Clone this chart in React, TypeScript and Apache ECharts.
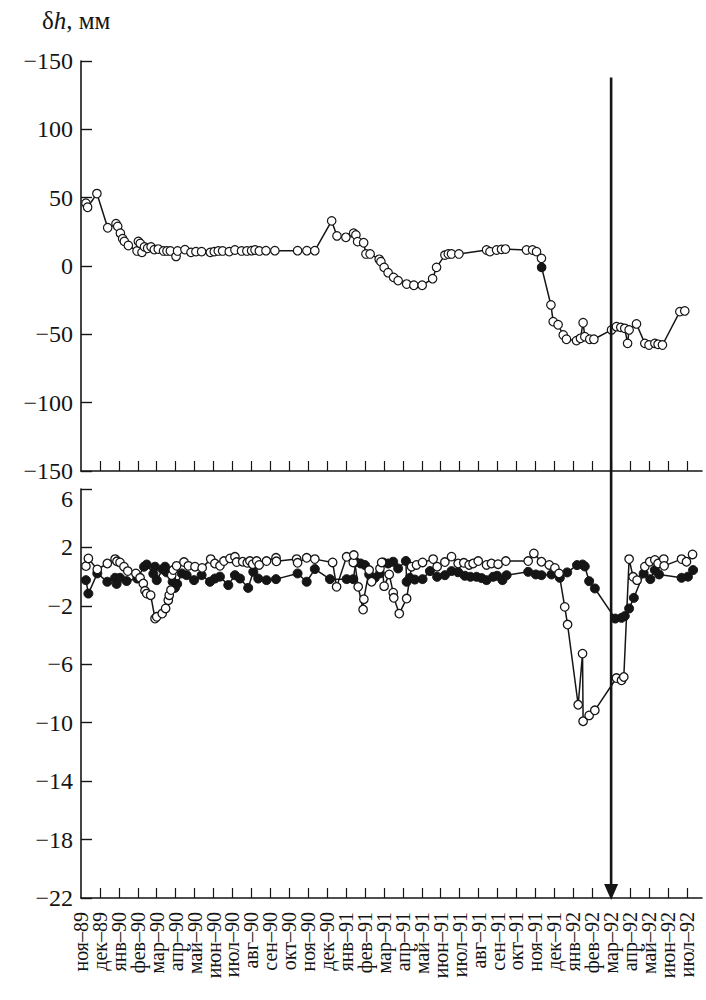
import React, { useEffect, useRef } from "react";
import * as echarts from "echarts";

const months = [
  "ноя–89", "дек–89", "янв–90", "фев–90", "мар–90", "апр–90", "май–90", "июн–90", "июл–90",
  "авг–90", "сен–90", "окт–90", "ноя–90", "дек–90", "янв–91", "фев–91", "мар–91", "апр–91",
  "май–91", "июн–91", "июл–91", "авг–91", "сен–91", "окт–91", "ноя–91", "дек–91", "янв–92",
  "фев–92", "мар–92", "апр–92", "май–92", "июн–92", "июл–92",
];

const topTicks = [-150, -100, -50, 0, 50, 100, 150];
const bottomTicks = [-22, -18, -14, -10, -6, -2, 2, 6];
const arrowMonth = 28;

// top panel: δh, mm (month index, value)
const topSeries: number[][] = [
  [0.26, 46], [0.35, 43], [0.84, 53], [1.41, 28], [1.85, 31], [1.94, 29], [2.08, 24], [2.2, 20],
  [2.29, 18], [2.5, 15], [2.96, 11], [3.03, 18], [3.13, 16.5], [3.22, 10], [3.35, 14], [3.52, 13],
  [3.7, 14], [3.87, 12], [4.08, 12.4], [4.36, 11], [4.54, 11], [4.72, 11], [5.02, 7], [5.1, 11],
  [5.49, 12], [5.81, 10], [6.07, 10.5], [6.37, 10.5], [6.83, 10], [7.04, 10.5], [7.25, 11], [7.48, 11],
  [7.83, 10.5], [8.13, 11.7], [8.48, 11], [8.76, 11], [9.01, 11.2], [9.19, 11.7], [9.42, 11], [9.77, 11.2],
  [10.24, 11.2], [11.44, 11.2], [11.93, 11.2], [12.35, 11.2], [13.24, 33], [13.52, 22], [13.99, 21], [14.4, 24],
  [14.52, 22.7], [14.61, 17.8], [14.93, 17], [15.05, 8.8], [15.27, 8.8], [15.75, 4.9], [15.84, 3.2], [16.01, -1],
  [16.22, -4.9], [16.51, -8.3], [16.75, -10.7], [17.2, -13.2], [17.58, -14.1], [18.02, -14.1], [18.57, -9.3],
  [18.78, -1], [19.22, 8], [19.4, 8.8], [19.57, 8.8], [19.96, 8.8], [21.42, 11.7], [21.6, 10.5], [21.95, 11.7],
  [22.21, 12.2], [22.42, 12.4], [23.53, 11.7], [23.85, 11.7], [24.06, 10.5], [24.32, 5.6], [24.33, -1],
  [24.82, -28.5], [24.94, -40.7], [25.2, -43], [25.47, -50.5], [25.64, -53.6], [26.17, -54.6], [26.38, -52.9],
  [26.52, -41.5], [26.61, -51.7], [26.87, -53.6], [27.09, -53.6], [28.02, -46.8], [28.28, -44.4], [28.51, -44.9],
  [28.72, -45.6], [28.87, -56.6], [28.95, -46.8], [29.34, -42.4], [29.78, -56.6], [30.0, -57.8], [30.31, -56.6],
  [30.48, -57.3], [30.71, -57.8], [31.63, -33.4], [31.89, -32.9],
];
const topFilledIndex = 77;

// bottom panel, open circles
const openSeries: number[][] = [
  [0.26, 0.72], [0.39, 1.25], [0.86, 0.49], [1.39, 0.9], [1.8, 1.2], [1.9, 1.05], [2.06, 0.97], [2.27, 0.68],
  [2.47, 0.38], [2.9, 0.22], [3.12, -0.08], [3.29, -0.47], [3.38, -0.97], [3.47, -1.16], [3.68, -1.27],
  [3.91, -2.87], [4.0, -2.75], [4.29, -2.53], [4.47, -2.18], [4.61, -1.61], [4.66, -1.27], [4.75, -0.92],
  [4.79, 0.1], [4.87, 0.45], [5.05, 0.74], [5.44, 1.0], [5.67, 0.74], [6.02, 0.68], [6.4, 0.6], [6.85, 1.2],
  [7.07, 0.9], [7.34, 0.74], [7.55, 1.07], [7.87, 1.25], [8.13, 1.36], [8.22, 1.0], [8.54, 1.02], [8.78, 0.95],
  [8.92, 1.07], [9.07, 0.85], [9.28, 1.07], [9.41, 0.8], [9.8, 1.07], [10.3, 1.29], [10.32, 1.05],
  [11.39, 1.2], [11.44, 0.95], [11.92, 1.29], [12.35, 1.2], [13.29, 0.97], [13.5, -0.7], [14.03, 1.36],
  [14.38, 0.97], [14.41, 1.48], [14.64, -0.7], [14.9, -2.25], [14.94, -1.54], [15.22, 0.45], [15.35, -0.35],
  [15.79, 0.55], [15.88, 0.97], [16.01, -0.65], [16.28, 0.15], [16.49, -1.1], [16.52, -1.45], [16.81, -2.53],
  [17.2, -1.5], [17.46, 0.68], [17.72, 0.8], [18.04, 0.97], [18.6, 1.2], [18.81, 0.68], [19.22, 1.0],
  [19.57, 1.37], [19.92, 0.9], [20.22, 0.95], [20.5, 0.8], [20.71, 0.9], [20.98, 1.07], [21.42, 0.8],
  [21.68, 0.9], [22.03, 0.85], [22.44, 1.07], [23.62, 1.07], [23.92, 1.59], [24.32, 1.02], [24.73, 0.8],
  [25.03, 0.6], [25.25, 0.22], [25.55, -2.07], [25.7, -3.28], [26.26, -8.77], [26.49, -5.27], [26.52, -9.9],
  [26.84, -9.5], [27.14, -9.15], [28.28, -6.94], [28.55, -7.1], [28.67, -6.87], [28.95, 1.2], [29.16, -0.01],
  [29.37, -0.24], [29.78, 0.68], [30.04, 1.02], [30.31, 1.14], [30.48, 0.9], [30.78, 1.2], [30.8, 0.74],
  [31.72, 1.2], [31.98, 1.02], [32.3, 1.52],
];

// bottom panel, filled circles
const filledSeries: number[][] = [
  [0.26, -0.24], [0.39, -1.16], [0.86, 0.22], [1.39, -0.35], [1.8, -0.08], [1.88, -0.5], [2.06, -0.08],
  [2.41, -0.3], [2.97, -0.13], [3.33, 0.68], [3.47, 0.83], [3.82, 0.2], [3.91, 0.68], [4.0, -0.24], [4.31, 0.5],
  [4.44, 0.68], [4.52, 0.3], [4.84, -0.35], [4.96, -0.77], [5.08, -0.5], [5.32, 0.22], [5.58, 0.1],
  [5.97, -0.24], [6.37, 0.1], [6.81, -0.35], [7.07, -0.13], [7.34, 0.0], [7.78, -0.58], [8.13, 0.1],
  [8.4, -0.13], [8.83, -0.77], [9.1, 0.33], [9.36, -0.13], [9.8, -0.24], [10.3, -0.17], [11.44, 0.22],
  [11.92, -0.35], [12.35, 0.52], [13.15, -0.17], [14.03, -0.17], [14.38, -0.17], [14.52, 1.0], [14.77, 0.9],
  [15.0, 0.79], [15.22, 0.15], [15.52, -0.08], [15.79, 0.22], [15.96, 0.97], [16.22, 0.9], [16.49, 1.02],
  [16.75, 0.56], [17.16, 1.07], [17.2, -0.35], [17.37, -0.08], [17.63, -0.2], [18.04, -0.17], [18.43, 0.38],
  [18.81, -0.01], [19.22, 0.1], [19.57, 0.38], [19.92, 0.3], [20.27, 0.06], [20.57, -0.01], [20.89, -0.01],
  [21.16, -0.1], [21.42, -0.24], [21.77, -0.01], [21.98, 0.06], [22.26, -0.24], [22.48, 0.1], [23.62, 0.33],
  [24.02, 0.15], [24.32, 0.1], [24.85, 0.15], [25.29, -0.08], [25.68, 0.29], [26.2, 0.79], [26.49, 0.83],
  [26.61, 0.7], [26.84, -0.31], [27.14, -0.81], [28.22, -2.87], [28.55, -2.82], [28.72, -2.7], [28.95, -2.18],
  [29.2, -1.45], [29.72, 0.22], [30.07, -0.17], [30.31, 0.45], [30.53, 0.15], [31.72, -0.08], [32.06, 0.0],
  [32.33, 0.45],
];

const INK = "#151515";
const FONT = "'Liberation Serif', 'Times New Roman', serif";

const minus = (v: number) => String(v).replace("-", "−");

export default function App() {
  const ref = useRef<HTMLDivElement>(null);

  useEffect(() => {
    if (!ref.current) return;
    const chart = echarts.init(ref.current, null, { renderer: "svg" });

    const monthIdx = months.map((_, i) => i);
    const evenIdx = monthIdx.filter((i) => i % 2 === 0);
    const oddIdx = monthIdx.filter((i) => i % 2 === 1);

    const xBase = {
      type: "value" as const,
      min: 0,
      max: 32.8,
      interval: 1,
      position: "bottom" as const,
      axisLine: { show: true, onZero: false, lineStyle: { color: INK, width: 1.6 } },
      axisTick: {
        show: true,
        inside: true,
        length: 10,
        customValues: monthIdx.slice(1),
        lineStyle: { color: INK, width: 1.2 },
      },
      splitLine: { show: false },
    };

    const monthLabel = (values: number[]) => ({
      show: true,
      rotate: 90,
      margin: 14,
      customValues: values,
      showMinLabel: true,
      showMaxLabel: true,
      hideOverlap: false,
      color: INK,
      fontSize: 20,
      fontFamily: FONT,
      formatter: (v: number) => (Number.isInteger(v) ? months[v] ?? "" : ""),
    });

    const yAxisCommon = {
      type: "value" as const,
      axisLine: { show: true, lineStyle: { color: INK, width: 1.6 } },
      axisTick: { show: true, inside: true, length: 11, lineStyle: { color: INK, width: 1.4 } },
      splitLine: { show: false },
      axisLabel: { color: INK, fontSize: 24, fontFamily: FONT, margin: 8 },
    };

    const lineSeriesBase = {
      type: "line" as const,
      showAllSymbol: true,
      symbol: "circle",
      symbolSize: 8.5,
      lineStyle: { color: INK, width: 1.5 },
      emphasis: { disabled: true },
    };

    chart.setOption({
      animation: false,
      grid: [
        { left: 81, top: 61, width: 621, height: 410 },
        { left: 81, top: 489, width: 621, height: 409 },
      ],
      xAxis: [
        { ...xBase, gridIndex: 0, axisLabel: { show: false } },
        { ...xBase, gridIndex: 1, axisLabel: monthLabel(evenIdx) },
        {
          ...xBase,
          gridIndex: 1,
          axisLine: { show: false, onZero: false },
          axisTick: { show: false },
          axisLabel: monthLabel(oddIdx),
        },
      ],
      yAxis: [
        {
          ...yAxisCommon,
          gridIndex: 0,
          min: topTicks[0],
          max: topTicks[topTicks.length - 1],
          interval: 50,
          axisLabel: {
            ...yAxisCommon.axisLabel,
            formatter: (v: number) => (v === 150 ? "−150" : minus(v)),
          },
        },
        {
          ...yAxisCommon,
          gridIndex: 1,
          min: bottomTicks[0],
          max: bottomTicks[bottomTicks.length - 1],
          interval: 4,
          axisLabel: {
            ...yAxisCommon.axisLabel,
            formatter: (v: number) => (v === 6 ? "{low|6}" : minus(v)),
            rich: {
              low: { fontSize: 24, fontFamily: FONT, color: INK, padding: [20, 0, 0, 0] },
            },
          },
        },
      ],
      series: [
        {
          ...lineSeriesBase,
          xAxisIndex: 0,
          yAxisIndex: 0,
          itemStyle: { color: "#ffffff", borderColor: INK, borderWidth: 1.2 },
          data: topSeries.map((p, i) =>
            i === topFilledIndex ? { value: p, itemStyle: { color: INK } } : p
          ),
        },
        {
          ...lineSeriesBase,
          xAxisIndex: 1,
          yAxisIndex: 1,
          symbolSize: 9,
          itemStyle: { color: INK, borderColor: INK, borderWidth: 1 },
          data: filledSeries,
        },
        {
          ...lineSeriesBase,
          xAxisIndex: 1,
          yAxisIndex: 1,
          itemStyle: { color: "#ffffff", borderColor: INK, borderWidth: 1.3 },
          data: openSeries,
        },
      ],
    });

    const ax = chart.convertToPixel({ xAxisIndex: 1 }, arrowMonth) as number;
    const yTop = chart.convertToPixel({ yAxisIndex: 0 }, 138) as number;
    const yTip = (chart.convertToPixel({ yAxisIndex: 1 }, bottomTicks[0]) as number) + 2;

    chart.setOption({
      graphic: [
        {
          type: "text",
          left: 42,
          top: 8,
          style: {
            text: "{a|δ}{b|h}{a|, мм}",
            fontSize: 25,
            fontFamily: FONT,
            rich: {
              a: { fontSize: 25, fontFamily: FONT, fill: INK },
              b: { fontSize: 25, fontFamily: FONT, fontStyle: "italic", fill: INK },
            },
          },
        },
        {
          type: "line",
          shape: { x1: ax, y1: yTop, x2: ax, y2: yTip - 12 },
          style: { stroke: INK, lineWidth: 2.6 },
          z: 100,
        },
        {
          type: "polygon",
          shape: { points: [[ax - 7, yTip - 16], [ax + 7, yTip - 16], [ax, yTip]] },
          style: { fill: INK },
          z: 100,
        },
      ],
    });

    return () => chart.dispose();
  }, []);

  return (
    <div
      ref={ref}
      style={{ position: "absolute", left: 0, top: 0, width: 706, height: 1000, background: "#fff" }}
    />
  );
}
